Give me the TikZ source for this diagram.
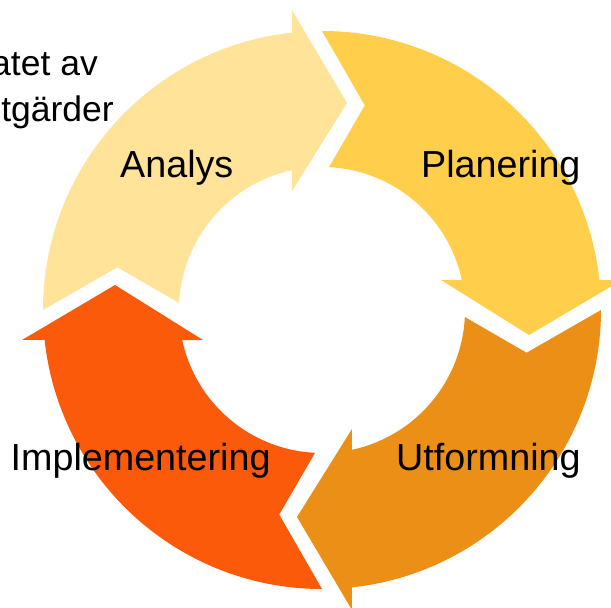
\documentclass[tikz,border=0pt]{standalone}
\usepackage{fontspec}
\setmainfont{Liberation Sans}
\definecolor{cAnalys}{HTML}{FFE399}
\definecolor{cPlan}{HTML}{FFCF4C}
\definecolor{cUtf}{HTML}{EC8F16}
\definecolor{cImpl}{HTML}{FA5A0A}
\newcommand\cyclearrow[2]{%
  \fill[#2, rotate=#1] (180:279) arc[start angle=180, end angle=96.17, radius=279]
    -- (-30,300) -- (25,207) -- (-30,119) -- (-30,139.8)
    arc[start angle=102.11, end angle=177.2, radius=143]
    -- (168.2:209) -- cycle;}
\tikzset{
  lbl/.style={font=\fontsize{37.7}{45}\selectfont, inner sep=0pt, anchor=base west, text=black},
  side/.style={font=\fontsize{35.5}{42}\selectfont, inner sep=0pt, anchor=base east, text=black}
}
\begin{document}
\begin{tikzpicture}[x=1pt,y=1pt]
\useasboundingbox (-322,-298) rectangle (289,310);
\clip (-322,-298) rectangle (289,310);
\cyclearrow{0}{cAnalys}
\cyclearrow{-90}{cPlan}
\cyclearrow{-180}{cUtf}
\cyclearrow{90}{cImpl}
\node[side] (t1) at (-224,234.3) {atet av};
\node[side] (t2) at (-208,188.3) {tgärder};
\node[lbl] (analys) at (-202,132) {Analys};
\node[lbl] (plan) at (99,132) {Planering};
\node[lbl] (impl) at (-311.5,-160) {Implementering};
\node[lbl] (utf) at (74,-160) {Utformning};
\end{tikzpicture}
\end{document}
